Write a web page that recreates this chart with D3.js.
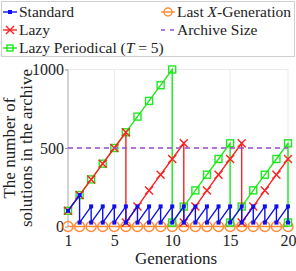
<!DOCTYPE html>
<html>
<head>
<meta charset="utf-8">
<script src="https://d3js.org/d3.v7.min.js"></script>
<style>
  body { margin: 0; background: #fff; }
  svg, svg text { font-family: "Liberation Serif", "Times New Roman", Times, serif !important; }
</style>
</head>
<body>
<div id="chart"></div>
<script>
// data: [generation, archive size]
const standardData = [[1,100],[2,200],[2,25],[3,128],[3,25],[4,128],[4,25],[5,128],[5,25],[6,128],[6,25],
  [7,128],[7,25],[8,128],[8,25],[9,128],[9,25],[10,128],[10,25],[11,128],[11,25],[12,128],[12,25],
  [13,128],[13,25],[14,128],[14,25],[15,128],[15,25],[16,128],[16,25],[17,128],[17,25],[18,128],[18,25],
  [19,128],[19,25],[20,128],[20,25]];
const lazyData = [[1,100],[2,200],[3,300],[4,400],[5,500],[6,600],[6,25],[7,127],[8,230],[9,330],[10,430],
  [11,530],[11,25],[12,127],[13,230],[14,330],[15,430],[16,530],[16,25],[17,127],[18,230],[19,330],[20,430]];
const periodicalData = [[1,100],[2,200],[3,300],[4,400],[5,500],[6,600],[7,700],[8,800],[9,900],[10,1000],
  [10,25],[11,127],[12,230],[13,330],[14,430],[15,530],[15,25],[16,127],[17,230],[18,330],[19,430],[20,530],[20,25]];
const lastXData = [[1,0],[2,0],[3,0],[4,0],[5,0],[6,0],[7,0],[8,0],[9,0],[10,0],
  [11,0],[12,0],[13,0],[14,0],[15,0],[16,0],[17,0],[18,0],[19,0],[20,0]];
const archiveSize = 500;
const xTicks = [1, 5, 10, 15, 20];
const yTicks = [0, 500, 1000];

const FONT = "'Liberation Serif', 'Times New Roman', Times, serif";
const W = 296, H = 271;
const svg = d3.select("#chart").append("svg").attr("width", W).attr("height", H)
  .attr("font-family", FONT);

const x = d3.scaleLinear().domain([1, 20]).range([68, 288]);
const y = d3.scaleLinear().domain([0, 1000]).range([226.5, 69.5]);

// grid / frame
svg.selectAll(".vgrid").data(xTicks.slice(1)).enter().append("line")
  .attr("x1", d => x(d)).attr("x2", d => x(d)).attr("y1", y(0)).attr("y2", y(1000))
  .attr("stroke", "#ebebeb").attr("stroke-width", 1);
svg.selectAll(".hgrid").data([500, 1000]).enter().append("line")
  .attr("x1", x(1)).attr("x2", x(20)).attr("y1", d => y(d)).attr("y2", d => y(d))
  .attr("stroke", "#ebebeb").attr("stroke-width", 1);
svg.append("line").attr("x1", x(1)).attr("x2", x(1)).attr("y1", y(0)).attr("y2", y(1000))
  .attr("stroke", "#c4c4c4").attr("stroke-width", 1.5);

// axes
const yAxis = svg.append("g").attr("transform", "translate(" + x(1) + ",0)")
  .call(d3.axisLeft(y).tickValues(yTicks).tickSize(3).tickPadding(1).tickFormat(d3.format("d")));
yAxis.attr("font-family", FONT);
yAxis.select(".domain").remove();
yAxis.selectAll("line").attr("stroke", "#999");
yAxis.selectAll("text").attr("font-size", 16).attr("fill", "#222").attr("font-family", FONT);

const xAxis = svg.append("g").attr("transform", "translate(0," + y(0) + ")")
  .call(d3.axisBottom(x).tickValues(xTicks).tickSize(0).tickPadding(8));
xAxis.attr("font-family", FONT);
xAxis.select(".domain").remove();
xAxis.selectAll("text").attr("font-size", 16).attr("fill", "#222").attr("font-family", FONT);

svg.append("text").attr("x", 176).attr("y", 264).attr("text-anchor", "middle")
  .attr("font-size", 17).attr("fill", "#222").attr("font-family", FONT).text("Generations");
const yl = svg.append("text").attr("transform", "translate(15,148) rotate(-90)")
  .attr("text-anchor", "middle").attr("font-size", 17).attr("fill", "#222").attr("font-family", FONT);
yl.append("tspan").attr("x", 0).attr("y", 0).text("The number of");
yl.append("tspan").attr("x", 0).attr("y", 17).text("solutions in the archive");

const line = d3.line().x(d => x(d[0])).y(d => y(d[1]));

// marker helpers
function square(g, cx, cy, s, fill, stroke, sw) {
  g.append("rect").attr("x", cx - s / 2).attr("y", cy - s / 2).attr("width", s).attr("height", s)
    .attr("fill", fill).attr("stroke", stroke).attr("stroke-width", sw);
}
function cross(g, cx, cy, s, color) {
  g.append("path").attr("d", `M${cx - s},${cy - s}L${cx + s},${cy + s}M${cx - s},${cy + s}L${cx + s},${cy - s}`)
    .attr("stroke", color).attr("stroke-width", 1.4).attr("fill", "none");
}
function circle(g, cx, cy, r, color) {
  g.append("circle").attr("cx", cx).attr("cy", cy).attr("r", r)
    .attr("fill", "none").attr("stroke", color).attr("stroke-width", 1.4);
}

const ORANGE = "#ff8a33", GREEN = "#1ee81e", RED = "#ff2020", BLUE = "#1010ee", PURPLE = "#9b4fc8";

// last X-generation
const gO = svg.append("g");
gO.append("path").attr("d", line(lastXData)).attr("stroke", ORANGE).attr("stroke-width", 1.4).attr("fill", "none");
lastXData.forEach(d => circle(gO, x(d[0]), y(d[1]), 5, ORANGE));

// lazy periodical
const gG = svg.append("g");
gG.append("path").attr("d", line(periodicalData)).attr("stroke", GREEN).attr("stroke-width", 1.4).attr("fill", "none");
periodicalData.forEach(d => square(gG, x(d[0]), y(d[1]), 7, "none", GREEN, 1.4));

// lazy
const gR = svg.append("g");
gR.append("path").attr("d", line(lazyData)).attr("stroke", RED).attr("stroke-width", 1.4).attr("fill", "none");
lazyData.forEach(d => cross(gR, x(d[0]), y(d[1]), 4, RED));

// standard
const gB = svg.append("g");
gB.append("path").attr("d", line(standardData)).attr("stroke", BLUE).attr("stroke-width", 1.4).attr("fill", "none");
standardData.forEach(d => square(gB, x(d[0]), y(d[1]), 4, BLUE, "none", 0));

// archive size
svg.append("line").attr("x1", x(1)).attr("x2", x(20)).attr("y1", y(archiveSize)).attr("y2", y(archiveSize))
  .attr("stroke", PURPLE).attr("stroke-width", 1.3).attr("stroke-dasharray", "5,4");

// legend
const lg = svg.append("g");
lg.append("rect").attr("x", 1.5).attr("y", 1.5).attr("width", 293).attr("height", 55)
  .attr("fill", "#fff").attr("stroke", "#d0d0d0");
function legendEntry(lx, ly, color, draw, label) {
  if (color) lg.append("line").attr("x1", lx).attr("x2", lx + 14).attr("y1", ly).attr("y2", ly)
    .attr("stroke", color).attr("stroke-width", 1.4);
  draw(lx + 7, ly);
  const t = lg.append("text").attr("x", lx + 16).attr("y", ly + 5).attr("font-size", 15.5)
    .attr("fill", "#222").attr("font-family", FONT);
  label.forEach(p => t.append("tspan").attr("font-style", p[1] ? "italic" : null).text(p[0]));
}
legendEntry(3, 12, BLUE, (cx, cy) => square(lg, cx, cy, 4, BLUE, "none", 0), [["Standard"]]);
legendEntry(3, 30, RED, (cx, cy) => cross(lg, cx, cy, 4, RED), [["Lazy"]]);
legendEntry(3, 48, GREEN, (cx, cy) => square(lg, cx, cy, 6, "none", GREEN, 1.4),
  [["Lazy Periodical ("], ["T", true], [" = 5)"]]);
legendEntry(161, 12, ORANGE, (cx, cy) => circle(lg, cx, cy, 4, ORANGE),
  [["Last "], ["X", true], ["-Generation"]]);
lg.append("line").attr("x1", 161).attr("x2", 175).attr("y1", 30).attr("y2", 30)
  .attr("stroke", PURPLE).attr("stroke-width", 1.3).attr("stroke-dasharray", "4,5");
lg.append("text").attr("x", 177).attr("y", 35).attr("font-size", 15.5).attr("fill", "#222")
  .attr("font-family", FONT).text("Archive Size");
</script>
</body>
</html>
